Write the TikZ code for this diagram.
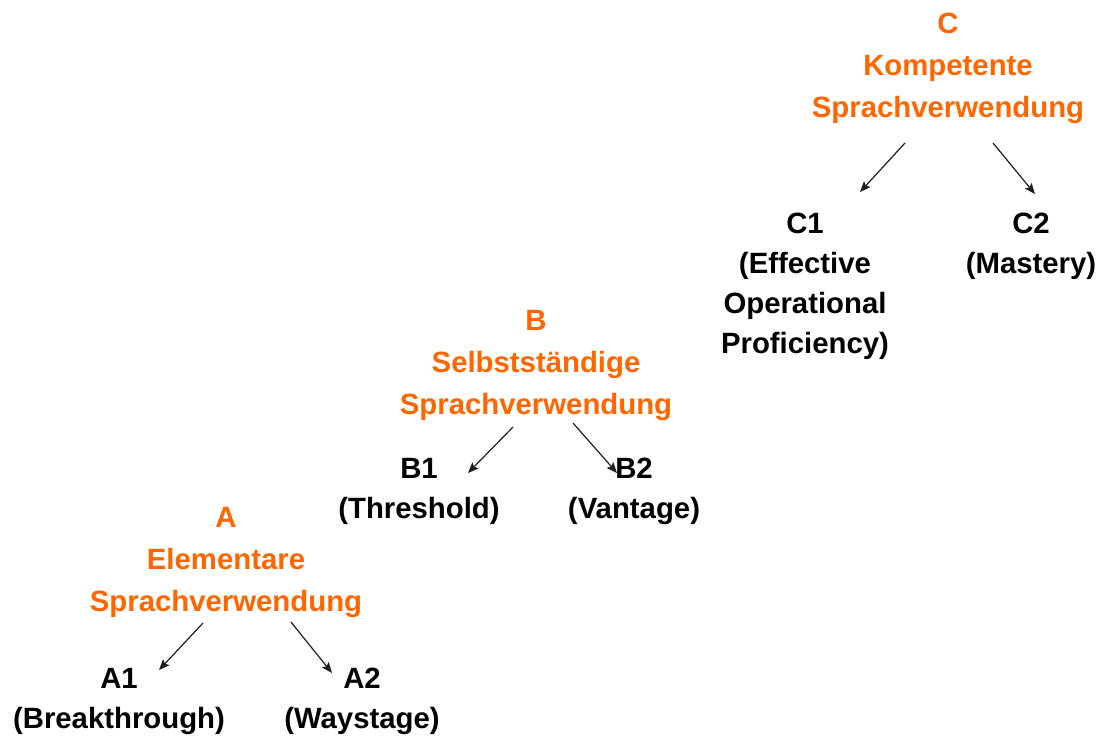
\documentclass[tikz,border=0pt]{standalone}
\usepackage{fontspec}
\setmainfont{Liberation Sans}
\usetikzlibrary{arrows.meta}
\definecolor{levelorange}{RGB}{255,102,0}
\definecolor{arrowgray}{RGB}{30,30,30}
\begin{document}
\begin{tikzpicture}[x=0.75pt,y=-0.75pt,
  level/.style={align=center, anchor=north, inner sep=0pt, text=levelorange,
    font=\fontsize{22pt}{31.5pt}\selectfont\bfseries},
  sublevel/.style={align=center, anchor=north, inner sep=0pt, text=black,
    font=\fontsize{22pt}{30pt}\selectfont\bfseries},
  branch/.style={draw=arrowgray, line width=0.9pt,
    -{Stealth[length=8pt,width=6.5pt,inset=1.5pt]}}]
\useasboundingbox (0,0) rectangle (1105,740);

% common reference level C
\node[level] (C) at (948,13) {C\\Kompetente\\Sprachverwendung};
\node[sublevel] (C1) at (805,213) {C1\\(Effective\\Operational\\Proficiency)};
\node[sublevel] (C2) at (1031,213) {C2\\(Mastery)};

% level B
\node[level] (B) at (536,310) {B\\Selbstständige\\Sprachverwendung};
\node[sublevel] (B1) at (419,458) {B1\\(Threshold)};
\node[sublevel] (B2) at (634,458) {B2\\(Vantage)};

% level A
\node[level] (A) at (226,507) {A\\Elementare\\Sprachverwendung};
\node[sublevel] (A1) at (119,668) {A1\\(Breakthrough)};
\node[sublevel] (A2) at (362,668) {A2\\(Waystage)};

% branch end points
\coordinate (Cs1) at (905,143);  \coordinate (C1e) at (860,192);
\coordinate (Cs2) at (993,143);  \coordinate (C2e) at (1035,194);
\coordinate (Bs1) at (513,427);  \coordinate (B1e) at (468,473);
\coordinate (Bs2) at (573,423);  \coordinate (B2e) at (617,473);
\coordinate (As1) at (203,623);  \coordinate (A1e) at (159,670);
\coordinate (As2) at (291,622);  \coordinate (A2e) at (332,673);

\draw[branch] (Cs1) -- (C1e);
\draw[branch] (Cs2) -- (C2e);
\draw[branch] (Bs1) -- (B1e);
\draw[branch] (Bs2) -- (B2e);
\draw[branch] (As1) -- (A1e);
\draw[branch] (As2) -- (A2e);
\end{tikzpicture}
\end{document}
